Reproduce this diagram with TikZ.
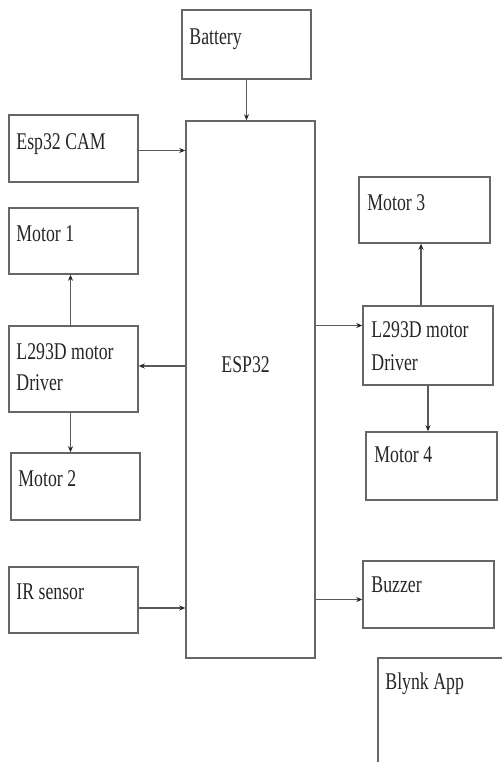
\documentclass[tikz,border=0pt]{standalone}
\usepackage{fontspec}
\setmainfont{Liberation Serif}
\usetikzlibrary{arrows.meta,calc}
\newcommand{\narrow}[1]{\scalebox{0.74}[1]{#1}}

\begin{document}
\begin{tikzpicture}[
		x=1pt,y=1pt,
		blk/.style={draw=black!60,line width=1.5pt,rectangle,inner sep=0pt},
		lbl/.style={anchor=base west,inner sep=0pt,text=black!85,font=\fontsize{24}{31}\selectfont},
		arr/.style={draw=black!65,line width=1.3pt,-{Stealth[length=6pt,width=5pt,color=black!85]}}
		]
		\useasboundingbox (0,0) rectangle (502,-762);
		% boxes
		\node[blk,minimum width=129,minimum height=69] (bat) at (246.5,-44.5) {};
		\node[blk,minimum width=129,minimum height=537] (esp) at (250.5,-389.5) {};
		\node[blk,minimum width=129,minimum height=67] (cam) at (73.5,-148.5) {};
		\node[blk,minimum width=129,minimum height=66] (mot1) at (73.5,-241) {};
		\node[blk,minimum width=129,minimum height=86] (drvL) at (73.5,-369) {};
		\node[blk,minimum width=129,minimum height=67] (mot2) at (75.5,-486.5) {};
		\node[blk,minimum width=129,minimum height=66] (ir) at (73.5,-600) {};
		\node[blk,minimum width=131,minimum height=66] (mot3) at (424.5,-210) {};
		\node[blk,minimum width=130,minimum height=79] (drvR) at (428,-345.5) {};
		\node[blk,minimum width=131,minimum height=68] (mot4) at (431.5,-466) {};
		\node[blk,minimum width=131,minimum height=67] (buz) at (428.5,-594.5) {};
		\node[blk,minimum width=132,minimum height=112] (blynk) at (444,-714) {};
		% labels
		\node[lbl] (batT) at ($(bat.north west)+(8,-35)$) {\narrow{Battery}};
		\node[lbl] (camT) at ($(cam.north west)+(8,-35)$) {\narrow{Esp32 CAM}};
		\node[lbl] (mot1T) at ($(mot1.north west)+(8,-34)$) {\narrow{Motor 1}};
		\node[lbl] (drvLT) at ($(drvL.north west)+(8,-34)$) {\narrow{L293D motor}};
		\node[lbl] (drvLT2) at ($(drvL.north west)+(8,-65)$) {\narrow{Driver}};
		\node[lbl] (mot2T) at ($(mot2.north west)+(8,-34)$) {\narrow{Motor 2}};
		\node[lbl] (irT) at ($(ir.north west)+(8,-33)$) {\narrow{IR sensor}};
		\node[lbl] (espT) at ($(esp.north west)+(36,-252)$) {\narrow{ESP32}};
		\node[lbl] (mot3T) at ($(mot3.north west)+(9,-34)$) {\narrow{Motor 3}};
		\node[lbl] (drvRT) at ($(drvR.north west)+(9,-32)$) {\narrow{L293D motor}};
		\node[lbl] (drvRT2) at ($(drvR.north west)+(9,-65)$) {\narrow{Driver}};
		\node[lbl] (mot4T) at ($(mot4.north west)+(9,-31)$) {\narrow{Motor 4}};
		\node[lbl] (buzT) at ($(buz.north west)+(9,-32)$) {\narrow{Buzzer}};
		\node[lbl] (blynkT) at ($(blynk.north west)+(8,-32)$) {\narrow{Blynk App}};
		% connections
		\draw[arr] (bat.south) -- (bat.south |- esp.north);
		\draw[arr] ([yshift=-2]cam.east) -- ([yshift=-2]cam.east -| esp.west);
		\draw[arr] ([yshift=-8]ir.east) -- ([yshift=-8]ir.east -| esp.west);
		\draw[arr] ([yshift=3]drvL.east -| esp.west) -- ([yshift=3]drvL.east);
		\draw[arr] ([xshift=-3]drvL.north) -- ([xshift=-3]drvL.north |- mot1.south);
		\draw[arr] ([xshift=-3]drvL.south) -- ([xshift=-3]drvL.south |- mot2.north);
		\draw[arr] ([yshift=20]drvR.west -| esp.east) -- ([yshift=20]drvR.west);
		\draw[arr] ([xshift=-7]drvR.north) -- ([xshift=-7]drvR.north |- mot3.south);
		\draw[arr] (drvR.south) -- (drvR.south |- mot4.north);
		\draw[arr] ([yshift=-5]buz.west -| esp.east) -- ([yshift=-5]buz.west);
	\end{tikzpicture}
\end{document}
